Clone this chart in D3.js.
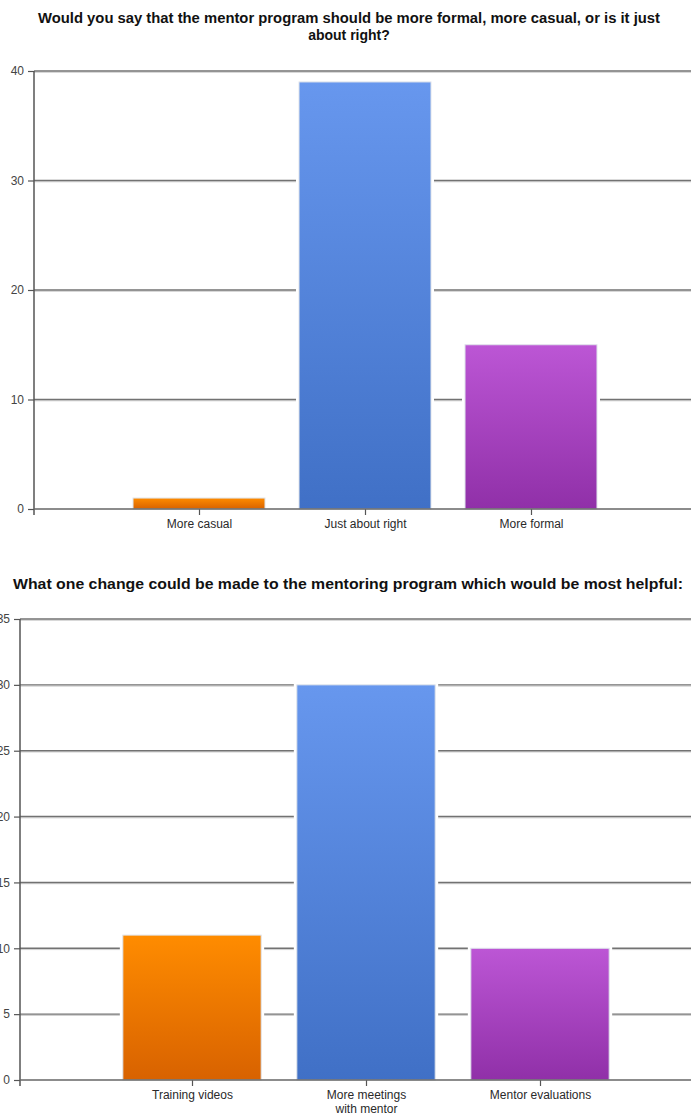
<!DOCTYPE html>
<html>
<head>
<meta charset="utf-8">
<script src="https://cdn.jsdelivr.net/npm/d3@7"></script>
<style>
  html, body { margin: 0; padding: 0; background: #fff; }
  svg { display: block; }
  text { font-family: "Liberation Sans", Arial, sans-serif; }
</style>
</head>
<body>
<svg id="chart" width="691" height="1116"></svg>
<script>
// ---- Data ----
const chart1Title = ["Would you say that the mentor program should be more formal, more casual, or is it just", "about right?"];
const chart1Categories = ["More casual", "Just about right", "More formal"];
const chart1Values = [1, 39, 15];
const chart1Ticks = [0, 10, 20, 30, 40];

const chart2Title = ["What one change could be made to the mentoring program which would be most helpful:"];
const chart2Categories = ["Training videos", "More meetings\nwith mentor", "Mentor evaluations"];
const chart2Values = [11, 30, 10];
const chart2Ticks = [0, 5, 10, 15, 20, 25, 30, 35];

const barColors = [
  { top: "#FF8C00", bottom: "#D86200" },
  { top: "#6797EE", bottom: "#4070C6" },
  { top: "#BC56D5", bottom: "#9030A8" }
];

const svg = d3.select("#chart");
const defs = svg.append("defs");
barColors.forEach((c, i) => {
  const g = defs.append("linearGradient").attr("id", "grad" + i)
    .attr("x1", 0).attr("y1", 0).attr("x2", 0).attr("y2", 1);
  g.append("stop").attr("offset", "0%").attr("stop-color", c.top);
  g.append("stop").attr("offset", "100%").attr("stop-color", c.bottom);
});

function drawChart(opts) {
  const g = svg.append("g");
  const y = d3.scaleLinear().domain(opts.yDomain).range(opts.yRange);
  const x = d3.scalePoint().domain(opts.categories).range(opts.xRange).padding(1);
  const barW = x.step() * 0.795;
  const y0 = y(0);
  const yTop = y(opts.yDomain[1]);

  // Title
  opts.title.forEach((line, i) => {
    const t = g.append("text")
      .attr("x", opts.titleX).attr("y", opts.titleY + i * opts.titleLH)
      .attr("text-anchor", "middle")
      .attr("font-weight", "bold")
      .attr("font-size", opts.titleSize)
      .attr("fill", "#111")
      .text(line);
    if (opts.titleLen[i]) t.attr("textLength", opts.titleLen[i]).attr("lengthAdjust", "spacingAndGlyphs");
  });

  // Gridlines
  const gridVals = opts.ticks.filter(d => d !== 0);
  g.append("g").selectAll("line.gl").data(gridVals).join("line")
    .attr("x1", opts.axisX).attr("x2", 691)
    .attr("y1", d => y(d) + 1.3).attr("y2", d => y(d) + 1.3)
    .attr("stroke", "#cfcfcf").attr("stroke-width", 1);
  g.append("g").selectAll("line.g").data(gridVals).join("line")
    .attr("x1", opts.axisX).attr("x2", 691)
    .attr("y1", d => y(d)).attr("y2", d => y(d))
    .attr("stroke", "#727272").attr("stroke-width", 1.4);

  // Bars: white halo then gradient bar
  const data = opts.categories.map((c, i) => ({ c, v: opts.values[i], i }));
  g.append("g").selectAll("rect.halo").data(data).join("rect")
    .attr("x", d => x(d.c) - barW / 2 - 3)
    .attr("y", d => y(d.v) - 3)
    .attr("width", barW + 6)
    .attr("height", d => y0 - y(d.v) + 2)
    .attr("fill", "#fff");
  g.append("g").selectAll("rect.bar").data(data).join("rect")
    .attr("x", d => x(d.c) - barW / 2)
    .attr("y", d => y(d.v))
    .attr("width", barW)
    .attr("height", d => y0 - y(d.v))
    .attr("fill", d => "url(#grad" + d.i + ")")
    .attr("stroke", "#dfe3ea").attr("stroke-width", 1);

  // Y axis
  const yAxis = d3.axisLeft(y).tickValues(opts.ticks).tickSize(6).tickPadding(4).tickFormat(d3.format("d"));
  const ya = g.append("g").attr("transform", `translate(${opts.axisX},0)`).call(yAxis);
  ya.select(".domain").remove();
  ya.selectAll(".tick line").attr("stroke", "#555").attr("stroke-width", 1.2);
  ya.selectAll(".tick text").attr("font-size", 12).attr("fill", "#444")
    .attr("font-family", "'Liberation Sans', Arial, sans-serif");
  g.append("line")
    .attr("x1", opts.axisX).attr("x2", opts.axisX)
    .attr("y1", yTop).attr("y2", y0 + 6)
    .attr("stroke", "#555").attr("stroke-width", 1.5);

  // X axis
  const xAxis = d3.axisBottom(x).tickSize(6).tickSizeOuter(0).tickFormat("");
  const xa = g.append("g").attr("transform", `translate(0,${y0})`).call(xAxis);
  xa.select(".domain").remove();
  xa.selectAll(".tick line").attr("stroke", "#555").attr("stroke-width", 1.2);
  xa.selectAll(".tick").each(function(d) {
    const lines = d.split("\n");
    const t = d3.select(this).append("text")
      .attr("text-anchor", "middle")
      .attr("font-size", 12)
      .attr("fill", "#2a2a2a")
      .attr("font-family", "'Liberation Sans', Arial, sans-serif");
    lines.forEach((ln, k) => {
      t.append("tspan").attr("x", 0).attr("y", opts.labelDy + k * 14).text(ln);
    });
  });
  g.append("line")
    .attr("x1", opts.axisX).attr("x2", 691)
    .attr("y1", y0).attr("y2", y0)
    .attr("stroke", "#666").attr("stroke-width", 1.5);
}

drawChart({
  title: chart1Title, titleX: 349, titleY: 23, titleLH: 17, titleSize: 14, titleLen: [622, null],
  categories: chart1Categories, values: chart1Values, ticks: chart1Ticks,
  yDomain: [0, 40], yRange: [509, 71], xRange: [33, 697], axisX: 34, labelDy: 19
});

drawChart({
  title: chart2Title, titleX: 348, titleY: 589, titleLH: 17, titleSize: 15, titleLen: [670],
  categories: chart2Categories, values: chart2Values, ticks: chart2Ticks,
  yDomain: [0, 35], yRange: [1080, 619], xRange: [18, 714], axisX: 20, labelDy: 19
});
</script>
</body>
</html>
